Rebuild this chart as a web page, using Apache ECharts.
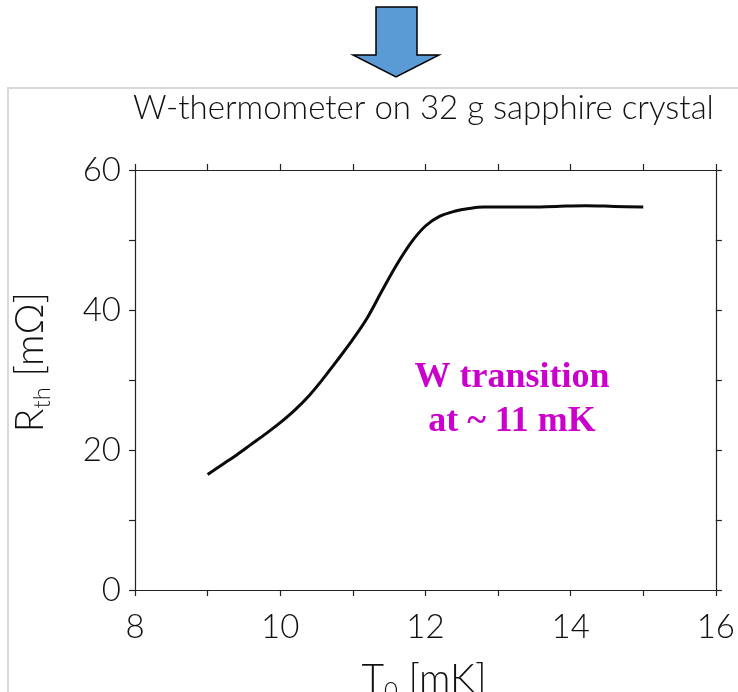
<!DOCTYPE html>
<html>
<head>
<meta charset="utf-8">
<style>
  html, body { margin: 0; padding: 0; background: #ffffff; }
  #chart { width: 738px; height: 692px; }
</style>
<script src="https://cdn.jsdelivr.net/npm/echarts@6/dist/echarts.min.js"></script>
</head>
<body>
<div id="chart"></div>
<script>
// Thermometer resistance R_th [mΩ] versus bath temperature T_0 [mK]
const temperature = [
  9.0, 9.2, 9.4, 9.6, 9.8, 10.0, 10.2, 10.4, 10.6, 10.8,
  11.0, 11.2, 11.4, 11.6, 11.8, 12.0, 12.2, 12.4, 12.6, 12.8,
  13.0, 13.4, 13.8, 14.2, 14.6, 15.0
];
const resistance = [
  16.5, 17.9, 19.3, 20.8, 22.3, 23.9, 25.7, 27.8, 30.3, 33.0,
  35.8, 38.9, 42.7, 46.4, 49.6, 52.0, 53.4, 54.1, 54.5, 54.7,
  54.7, 54.7, 54.8, 54.9, 54.8, 54.7
];
const xTicks = { min: 8, max: 16, step: 2 };
const yTicks = { min: 0, max: 60, step: 20 };

const titleText = 'W-thermometer on 32 g sapphire crystal';
const noteLines = ['W transition', 'at ~ 11 mK'];

const thinFont = 'Lato, "Open Sans", "DejaVu Sans", sans-serif';
const ink = '#111111';
const axisLine = { color: '#222', width: 1.2 };

const chart = echarts.init(document.getElementById('chart'), null, { renderer: 'canvas' });

function xAxisDef(position, showLabel) {
  return {
    type: 'value', position: position,
    min: xTicks.min, max: xTicks.max, interval: xTicks.step,
    axisLine: { show: true, onZero: false, lineStyle: axisLine },
    axisTick: { show: true, inside: false, length: 6, lineStyle: axisLine },
    minorTick: { show: true, splitNumber: 2, length: 6, lineStyle: axisLine },
    splitLine: { show: false },
    axisLabel: {
      show: showLabel, margin: 21, color: ink,
      fontFamily: thinFont, fontWeight: 300, fontSize: 33
    }
  };
}
function yAxisDef(position, showLabel) {
  return {
    type: 'value', position: position,
    min: yTicks.min, max: yTicks.max, interval: yTicks.step,
    axisLine: { show: true, onZero: false, lineStyle: axisLine },
    axisTick: { show: true, inside: false, length: 6, lineStyle: axisLine },
    minorTick: { show: true, splitNumber: 2, length: 6, lineStyle: axisLine },
    splitLine: { show: false },
    axisLabel: {
      show: showLabel, margin: 14, color: ink,
      fontFamily: thinFont, fontWeight: 300, fontSize: 33
    }
  };
}

const nameRich = {
  m: { fontFamily: thinFont, fontWeight: 300, fontSize: 39, lineHeight: 48, verticalAlign: 'middle', fill: ink },
  s: { fontFamily: thinFont, fontWeight: 300, fontSize: 24, lineHeight: 24, verticalAlign: 'bottom', fill: ink }
};

const option = {
  backgroundColor: '#ffffff',
  animation: false,
  grid: { left: 135, right: 15, top: 170, bottom: 102, containLabel: false },
  xAxis: [xAxisDef('bottom', true), xAxisDef('top', false)],
  yAxis: [yAxisDef('left', true), yAxisDef('right', false)],
  series: [{
    type: 'line',
    xAxisIndex: 0, yAxisIndex: 0,
    data: temperature.map((t, i) => [t, resistance[i]]),
    showSymbol: false,
    smooth: 0.35,
    lineStyle: { color: '#0a0a0a', width: 3 },
    silent: true
  }],
  graphic: [
    // light frame around the figure panel
    {
      type: 'polyline', silent: true,
      shape: { points: [[8, 700], [8, 88], [745, 88]] },
      style: { stroke: '#d9d9d9', lineWidth: 2, fill: null }
    },
    // downward arrow above the panel
    {
      type: 'polygon', silent: true,
      shape: { points: [[376, 7], [417, 7], [417, 55], [439, 55], [396, 77], [353, 55], [376, 55]] },
      style: { fill: '#5b9bd5', stroke: '#000', lineWidth: 1.5 }
    },
    {
      type: 'text', silent: true, x: 133, y: 108,
      style: {
        text: titleText, fill: ink, font: '300 33px ' + thinFont,
        align: 'left', verticalAlign: 'middle'
      }
    },
    // y-axis name, rotated
    {
      type: 'text', silent: true, x: 30, y: 362, rotation: Math.PI / 2,
      style: {
        text: '{m|R}{s|th}{m| [mΩ]}', fill: ink,
        align: 'center', verticalAlign: 'middle', rich: nameRich
      }
    },
    // x-axis name
    {
      type: 'text', silent: true, x: 424, y: 679,
      style: {
        text: '{m|T}{s|0}{m| [mK]}', fill: ink,
        align: 'center', verticalAlign: 'middle', rich: nameRich
      }
    },
    // annotation
    {
      type: 'text', silent: true, x: 512, y: 378,
      style: {
        text: noteLines[0], fill: '#cc00cc',
        font: 'bold 36px "Liberation Serif", "Times New Roman", serif',
        align: 'center', verticalAlign: 'middle'
      }
    },
    {
      type: 'text', silent: true, x: 512, y: 422,
      style: {
        text: noteLines[1], fill: '#cc00cc',
        font: 'bold 36px "Liberation Serif", "Times New Roman", serif',
        align: 'center', verticalAlign: 'middle'
      }
    }
  ]
};

chart.setOption(option);
</script>
</body>
</html>
